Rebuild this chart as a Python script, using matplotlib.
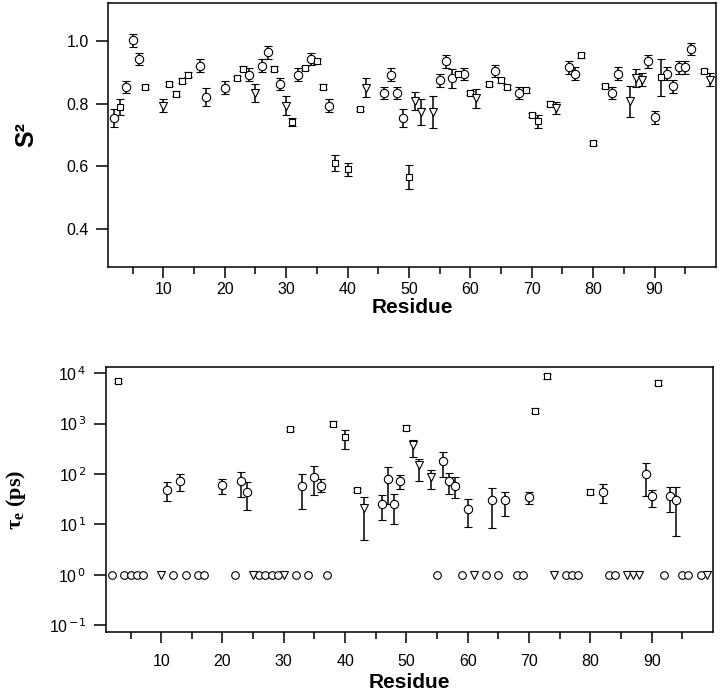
import numpy as np
import matplotlib
matplotlib.use("Agg")
import matplotlib.pyplot as plt

plt.rcParams['font.family'] = ['Liberation Sans', 'DejaVu Sans']
plt.rcParams['mathtext.fontset'] = 'custom'
plt.rcParams['mathtext.rm'] = 'Liberation Serif'
plt.rcParams['mathtext.bf'] = 'Liberation Serif:bold'

# ---- top panel: order parameter S^2 ----
s2_circ_res = [2, 4, 5, 6, 16, 17, 20, 24, 26, 27, 29, 32, 34, 37, 46, 47, 48, 49, 55, 56,
               57, 59, 64, 68, 76, 77, 83, 84, 89, 90, 92, 93, 94, 95, 96]
s2_circ_val = [0.754, 0.853, 1.001, 0.942, 0.921, 0.821, 0.851, 0.892, 0.921, 0.963, 0.862,
               0.892, 0.942, 0.793, 0.833, 0.892, 0.833, 0.754, 0.874, 0.934, 0.881, 0.894,
               0.904, 0.833, 0.915, 0.895, 0.833, 0.895, 0.934, 0.756, 0.895, 0.855, 0.915,
               0.915, 0.974]
s2_circ_err = [0.03, 0.02, 0.02, 0.02, 0.02, 0.03, 0.02, 0.02, 0.02, 0.02, 0.02, 0.02, 0.02,
               0.02, 0.02, 0.02, 0.02, 0.03, 0.02, 0.02, 0.03, 0.02, 0.02, 0.02, 0.02, 0.02,
               0.02, 0.02, 0.02, 0.02, 0.02, 0.02, 0.02, 0.02, 0.02]

s2_sq_res = [3, 7, 11, 12, 13, 14, 22, 23, 28, 31, 33, 35, 36, 38, 40, 42, 50, 58, 60, 63,
             65, 66, 69, 70, 71, 73, 78, 80, 82, 91, 98]
s2_sq_val = [0.789, 0.853, 0.862, 0.832, 0.873, 0.892, 0.881, 0.911, 0.911, 0.741, 0.913,
             0.934, 0.854, 0.610, 0.591, 0.783, 0.566, 0.894, 0.833, 0.863, 0.874, 0.853,
             0.842, 0.764, 0.743, 0.800, 0.953, 0.674, 0.855, 0.883, 0.904]
s2_sq_err = [0.025, 0.007, 0.007, 0.007, 0.007, 0.007, 0.007, 0.007, 0.007, 0.012, 0.007,
             0.007, 0.007, 0.025, 0.021, 0.007, 0.038, 0.007, 0.007, 0.007, 0.007, 0.007,
             0.007, 0.007, 0.022, 0.007, 0.007, 0.007, 0.007, 0.06, 0.007]

s2_tri_res = [10, 25, 30, 43, 51, 52, 54, 61, 74, 86, 87, 88, 99]
s2_tri_val = [0.793, 0.833, 0.793, 0.851, 0.807, 0.773, 0.773, 0.817, 0.786, 0.807, 0.881,
              0.876, 0.876]
s2_tri_err = [0.02, 0.029, 0.03, 0.03, 0.029, 0.042, 0.05, 0.03, 0.02, 0.049, 0.029, 0.02, 0.02]

# ---- bottom panel: internal correlation time tau_e (ps) ----
te_circ_res = [11, 13, 20, 23, 24, 33, 35, 36, 46, 47, 48, 49, 56, 57, 58, 60, 64, 66, 70,
               82, 89, 90, 93, 94]
te_circ_val = [48, 74, 60, 74, 44, 59, 89, 59, 26, 80, 26, 74, 185, 74, 59, 20, 31, 31, 35,
               45, 100, 36, 36, 31]
te_circ_lo = [29, 47, 40, 35, 19, 20, 39, 44, 12, 26, 10, 50, 89, 40, 33, 9, 8.5, 15, 26,
              27, 37, 22, 18, 6]
te_circ_hi = [69, 100, 78, 112, 71, 100, 141, 79, 39, 135, 40, 95, 275, 107, 89, 32, 52, 45,
              44, 63, 162, 48, 55, 55]

te_sq_res = [3, 31, 38, 40, 42, 50, 71, 73, 80, 91]
te_sq_val = [7000, 780, 1000, 540, 48, 830, 1800, 8600, 45, 6500]
te_sq_lo = [6300, 700, 900, 316, 44, 750, 1600, 7800, 41, 5900]
te_sq_hi = [7800, 870, 1120, 760, 53, 920, 2000, 9600, 50, 7200]

te_tri_res = [43, 51, 52, 54]
te_tri_val = [21, 380, 150, 89]
te_tri_lo = [4.9, 214, 72, 50]
te_tri_hi = [35, 480, 195, 120]

# residues with no fitted tau_e, plotted at 1 ps
fixed_circ_res = [2, 4, 5, 6, 7, 12, 14, 16, 17, 22, 26, 27, 28, 29, 32, 34, 37, 55, 59, 63,
                  65, 68, 69, 76, 77, 78, 83, 84, 92, 95, 96, 98]
fixed_tri_res = [10, 25, 30, 61, 74, 86, 87, 88, 99]

mstyle = dict(mfc='white', mec='black', mew=0.8, ecolor='black', elinewidth=1.1,
              capsize=3, capthick=1.1, ls='none')


def style_axis(ax, xpad):
    for sp in ax.spines.values():
        sp.set_linewidth(1.1)
    ax.set_xlim(1, 100)
    ax.set_xticks(np.arange(10, 100, 10))
    ax.set_xticks(np.arange(5, 100, 10), minor=True)
    ax.tick_params(axis='x', which='major', direction='out', length=8, width=1.1,
                   labelsize=11.5, pad=xpad)
    ax.tick_params(axis='x', which='minor', direction='out', length=5, width=1.1)
    ax.tick_params(axis='y', which='major', direction='out', length=9, width=1.1,
                   labelsize=11.5, pad=5)


fig = plt.figure(figsize=(7.2, 6.94), dpi=100)

ax1 = fig.add_axes([108 / 720, 1 - 267 / 694, 608 / 720, 264 / 694])
ax1.errorbar(s2_circ_res, s2_circ_val, yerr=s2_circ_err, marker='o', ms=6, **mstyle)
ax1.errorbar(s2_sq_res, s2_sq_val, yerr=s2_sq_err, marker='s', ms=4.8, **mstyle)
ax1.errorbar(s2_tri_res, s2_tri_val, yerr=s2_tri_err, marker='v', ms=6, **mstyle)
style_axis(ax1, 3)
ax1.set_ylim(0.28, 1.12)
ax1.set_yticks([0.4, 0.6, 0.8, 1.0])
ax1.set_yticklabels(['0.4', '0.6', '0.8', '1.0'])
ax1.set_xlabel('Residue', fontsize=15, fontweight='bold', labelpad=0.5)
ax1.set_ylabel('S²', fontsize=18, fontweight='bold', va='center')
ax1.yaxis.set_label_coords(-0.135, 0.5)

ax2 = fig.add_axes([106 / 720, 1 - 632 / 694, 607 / 720, 265 / 694])
ax2.set_yscale('log')
ax2.errorbar(te_circ_res, te_circ_val,
             yerr=[np.subtract(te_circ_val, te_circ_lo), np.subtract(te_circ_hi, te_circ_val)],
             marker='o', ms=6, **mstyle)
ax2.errorbar(te_sq_res, te_sq_val,
             yerr=[np.subtract(te_sq_val, te_sq_lo), np.subtract(te_sq_hi, te_sq_val)],
             marker='s', ms=4.8, **mstyle)
ax2.errorbar(te_tri_res, te_tri_val,
             yerr=[np.subtract(te_tri_val, te_tri_lo), np.subtract(te_tri_hi, te_tri_val)],
             marker='v', ms=6, **mstyle)
ax2.plot(fixed_circ_res, np.ones(len(fixed_circ_res)), 'o', ms=5.5, mfc='white',
         mec='black', mew=0.8)
ax2.plot(fixed_tri_res, np.ones(len(fixed_tri_res)), 'v', ms=5.5, mfc='white',
         mec='black', mew=0.8)
style_axis(ax2, 8)
ax2.set_ylim(10 ** -1.13, 10 ** 4.12)
ax2.set_yticks([0.1, 1, 10, 100, 1000, 10000])
ax2.set_yticklabels([r'10$^{\,\mathsf{-1}}$', r'10$^{\,\mathsf{0}}$', r'10$^{\,\mathsf{1}}$',
                     r'10$^{\,\mathsf{2}}$', r'10$^{\,\mathsf{3}}$', r'10$^{\,\mathsf{4}}$'])
ax2.yaxis.set_minor_locator(matplotlib.ticker.NullLocator())
ax2.set_xlabel('Residue', fontsize=15, fontweight='bold', labelpad=3)
ax2.set_ylabel(r'$\mathbf{τ_e}$ (ps)', fontsize=16, fontweight='bold',
               family='Liberation Serif', va='center')
ax2.yaxis.set_label_coords(-0.148, 0.5)

fig.savefig('out.png', dpi=100)
